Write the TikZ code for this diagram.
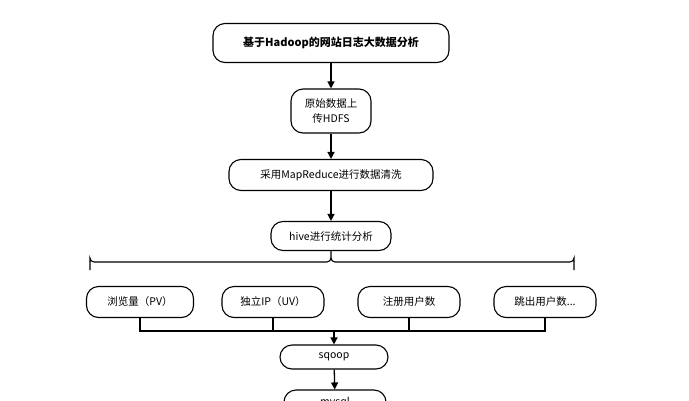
\documentclass[tikz,border=0pt]{standalone}
\usepackage{fontspec}
\setmainfont{Noto Sans CJK SC}
\usetikzlibrary{arrows.meta}
\begin{document}
\begin{tikzpicture}[x=1pt,y=-1pt,
  box/.style={draw,line width=1.1pt,rounded corners=12pt,align=center,font=\fontsize{10.5}{14}\selectfont,inner sep=0pt},
  arr/.style={line width=1.3pt,-{Triangle[length=7pt,width=7pt]}},
  ln/.style={line width=1.1pt}]
\useasboundingbox (0,0) rectangle (689,400);
\clip (0,0) rectangle (689,400);
\node[box,minimum width=236pt,minimum height=39pt,font=\fontsize{11}{12}\selectfont\bfseries] (t) at (331,43) {基于Hadoop的网站日志大数据分析};
\node[box,minimum width=80pt,minimum height=44pt] (h) at (331,111) {原始数据上\\传HDFS};
\node[box,minimum width=204pt,minimum height=31pt] (m) at (331,175) {采用MapReduce进行数据清洗};
\node[box,minimum width=120pt,minimum height=29pt] (v) at (331,236) {hive进行统计分析};
\node[box,minimum width=107pt,minimum height=31pt] (a) at (140,302) {浏览量（PV）};
\node[box,minimum width=102pt,minimum height=31pt] (b) at (273,302) {独立IP（UV）};
\node[box,minimum width=102pt,minimum height=31pt] (c) at (409,302) {注册用户数};
\node[box,minimum width=102pt,minimum height=31pt] (d) at (545,302) {跳出用户数...};
\node[box,minimum width=108pt,minimum height=24pt] (s) at (334,357) {sqoop};
\node[box,minimum width=102pt,minimum height=26pt] (y) at (335,403) {mysql};
\draw[arr] (t) -- (h);
\draw[arr] (h) -- (m);
\draw[arr] (m) -- (v);
\draw[ln] (v.south) -- (331,258) arc (180:90:4) -- (331+4,262) -- (570,262) arc (90:0:4) -- (574,270);
\draw[ln] (331,258) arc (0:90:4) -- (94,262) arc (90:180:4) -- (90,270);
\coordinate (j) at (334,331);
\draw[ln] (a.south) -- (140,331) -- (545,331) -- (d.south);
\draw[ln] (b.south) -- (273,331);
\draw[ln] (c.south) -- (409,331);
\draw[arr] (j) -- (s);
\draw[arr] (s) -- (y);
\end{tikzpicture}
\end{document}
